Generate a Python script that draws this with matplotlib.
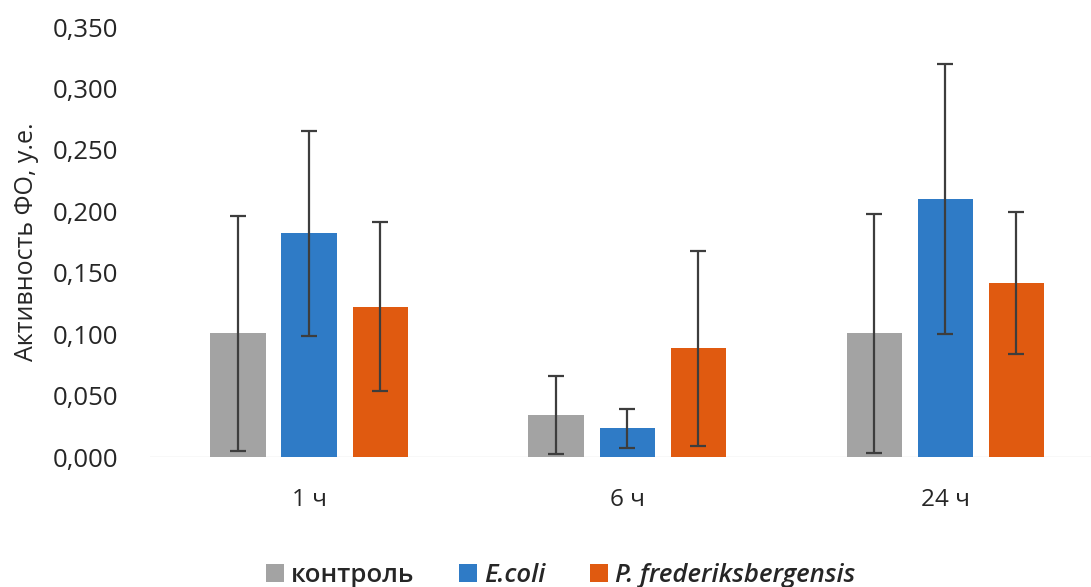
import matplotlib.pyplot as plt
import matplotlib.ticker as mticker
import numpy as np

plt.rcParams['font.family'] = ['Open Sans', 'DejaVu Sans']

groups = ["1 ч", "6 ч", "24 ч"]
series = ["контроль", "E.coli", "P. frederiksbergensis"]

control = [0.1007, 0.0342, 0.1007]
control_err = [0.0957, 0.0317, 0.0971]
ecoli = [0.1820, 0.0234, 0.2097]
ecoli_err = [0.0836, 0.0157, 0.1099]
pfred = [0.1223, 0.0885, 0.1414]
pfred_err = [0.0687, 0.0794, 0.0578]

colors = ["#a3a3a3", "#2f7bc6", "#e05a10"]

fig = plt.figure(figsize=(10.91, 5.87), dpi=100)
ax = fig.add_axes([150 / 1091, 130 / 587, 941 / 1091, 430 / 587])

x = np.arange(len(groups))
step = 0.2233
width = 0.173
vals = [control, ecoli, pfred]
errs = [control_err, ecoli_err, pfred_err]
for i in range(3):
	ax.bar(x + (i - 1) * step, vals[i], width, color=colors[i], label=series[i],
		yerr=errs[i], capsize=5.7,
		error_kw=dict(ecolor="#3d3d3d", elinewidth=1.6, capthick=1.6))

ax.axhline(0, color="#dcdcdc", linewidth=1, zorder=0)
ax.set_xlim(-0.5, 2.459)
ax.set_ylim(0, 0.35)
ax.set_yticks(np.arange(0, 0.351, 0.05))
ax.yaxis.set_major_formatter(mticker.FuncFormatter(lambda v, p: ("%.3f" % v).replace(".", ",")))
ax.set_xticks(x)
ax.set_xticklabels(groups)
for s in ax.spines.values():
	s.set_visible(False)
ax.tick_params(axis="y", length=0, pad=23, labelsize=18.5, labelcolor="#262626")
ax.tick_params(axis="x", length=0, pad=22, labelsize=17.5, labelcolor="#262626")

ax.set_ylabel("Активность ФО, у.е.", fontsize=18, color="#262626")
ax.yaxis.set_label_coords(-0.118, 0.5)

leg = fig.legend(loc="center", bbox_to_anchor=(0.514, 0.02), ncol=3, frameon=False,
	prop=dict(size=18.5, weight="semibold"), handlelength=0.68, handleheight=0.68,
	handletextpad=0.28, columnspacing=1.75)
for t in leg.get_texts()[1:]:
	t.set_fontstyle("italic")
for t in leg.get_texts():
	t.set_color("#262626")

plt.savefig("out.png", dpi=100)
